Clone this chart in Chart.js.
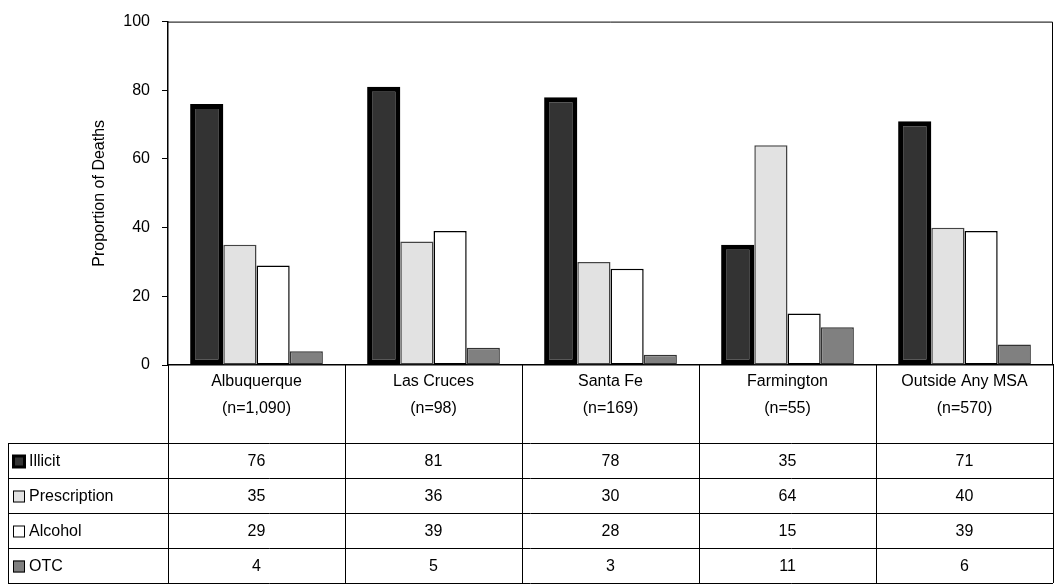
<!DOCTYPE html>
<html>
<head>
<meta charset="utf-8">
<script src="https://cdn.jsdelivr.net/npm/chart.js@4"></script>
<style>
  html, body { margin: 0; padding: 0; background: #fff; }
  #wrap { position: relative; width: 1054px; height: 586px; }
</style>
</head>
<body>
<div id="wrap"><canvas id="chart" width="1054" height="586"></canvas></div>
<script>
const places = ['Albuquerque', 'Las Cruces', 'Santa Fe', 'Farmington', 'Outside Any MSA'];
const sampleSizes = ['(n=1,090)', '(n=98)', '(n=169)', '(n=55)', '(n=570)'];
const illicit = [76, 81, 78, 35, 71];
const prescription = [35, 36, 30, 64, 40];
const alcohol = [29, 39, 28, 15, 39];
const otc = [4, 5, 3, 11, 6];
const yTicks = [0, 20, 40, 60, 80, 100];

const FONT = 'Arial, "Liberation Sans", sans-serif';
const TABLE_LEFT = 8;
const ROW_LINES = [443, 478, 513, 548, 583];

const series = [
  { label: 'Illicit', data: illicit, fill: '#333333', border: '#000000', width: 5 },
  { label: 'Prescription', data: prescription, fill: '#e2e2e2', border: '#444444', width: 1.5 },
  { label: 'Alcohol', data: alcohol, fill: '#ffffff', border: '#000000', width: 1.5 },
  { label: 'OTC', data: otc, fill: '#808080', border: '#333333', width: 1.5 }
];

const tablePlugin = {
  id: 'dataTable',
  afterDraw(chart) {
    const { ctx, chartArea, scales } = chart;
    const x = scales.x;
    const step = (chartArea.right - chartArea.left) / places.length;
    ctx.save();
    ctx.strokeStyle = '#000';
    ctx.lineWidth = 1;
    ctx.beginPath();
    for (let i = 0; i <= places.length; i++) {
      const vx = Math.round(chartArea.left + i * step) + 0.5;
      ctx.moveTo(vx, chartArea.bottom);
      ctx.lineTo(vx, ROW_LINES[ROW_LINES.length - 1]);
    }
    ctx.moveTo(TABLE_LEFT + 0.5, ROW_LINES[0]);
    ctx.lineTo(TABLE_LEFT + 0.5, ROW_LINES[ROW_LINES.length - 1]);
    ROW_LINES.forEach((ry) => {
      ctx.moveTo(TABLE_LEFT, ry + 0.5);
      ctx.lineTo(chartArea.right, ry + 0.5);
    });
    // top and right frame of plot
    ctx.moveTo(chartArea.left, chartArea.top + 0.5);
    ctx.lineTo(chartArea.right - 0.5, chartArea.top + 0.5);
    ctx.lineTo(chartArea.right - 0.5, chartArea.bottom);
    ctx.stroke();

    ctx.fillStyle = '#000';
    ctx.font = '16px ' + FONT;
    ctx.textAlign = 'center';
    ctx.textBaseline = 'middle';
    places.forEach((p, i) => {
      const cx = x.getPixelForValue(i);
      ctx.fillText(p, cx, 382);
      ctx.fillText(sampleSizes[i], cx, 409);
    });
    series.forEach((s, r) => {
      const cy = (ROW_LINES[r] + ROW_LINES[r + 1]) / 2 + 1;
      s.data.forEach((v, i) => ctx.fillText(String(v), x.getPixelForValue(i), cy));
      ctx.fillStyle = s.fill;
      ctx.fillRect(13, cy - 6, 12, 12);
      ctx.strokeStyle = '#000';
      ctx.lineWidth = r === 0 ? 3 : 1;
      ctx.strokeRect(13.5, cy - 5.5, 11, 11);
      ctx.fillStyle = '#000';
      ctx.textAlign = 'left';
      ctx.fillText(s.label, 29, cy);
      ctx.textAlign = 'center';
    });

    // y-axis title
    ctx.save();
    ctx.translate(100, (chartArea.top + chartArea.bottom) / 2);
    ctx.rotate(-Math.PI / 2);
    ctx.fillText('Proportion of Deaths', 0, 0);
    ctx.restore();
    ctx.restore();
  }
};

new Chart(document.getElementById('chart'), {
  type: 'bar',
  data: {
    labels: places,
    datasets: series.map((s) => ({
      label: s.label,
      data: s.data,
      backgroundColor: s.fill,
      borderColor: s.border,
      borderWidth: s.width,
      borderSkipped: false,
      categoryPercentage: 0.75,
      barPercentage: 1
    }))
  },
  options: {
    responsive: false,
    animation: false,
    layout: { padding: { top: 15, right: 1, bottom: 221, left: 0 } },
    plugins: { legend: { display: false }, tooltip: { enabled: false } },
    scales: {
      x: {
        display: true,
        ticks: { display: false },
        grid: { display: false, drawTicks: false },
        border: { color: '#000', width: 1.5 }
      },
      y: {
        min: 0,
        max: 100,
        afterFit(scale) { scale.width = 168; },
        afterBuildTicks(scale) { scale.ticks = yTicks.map((v) => ({ value: v })); },
        ticks: { color: '#000', font: { family: FONT, size: 16 }, padding: 12 },
        grid: { display: true, drawOnChartArea: false, color: '#000', tickLength: 6 },
        border: { color: '#000', width: 1.5 }
      }
    }
  },
  plugins: [tablePlugin]
});
</script>
</body>
</html>
